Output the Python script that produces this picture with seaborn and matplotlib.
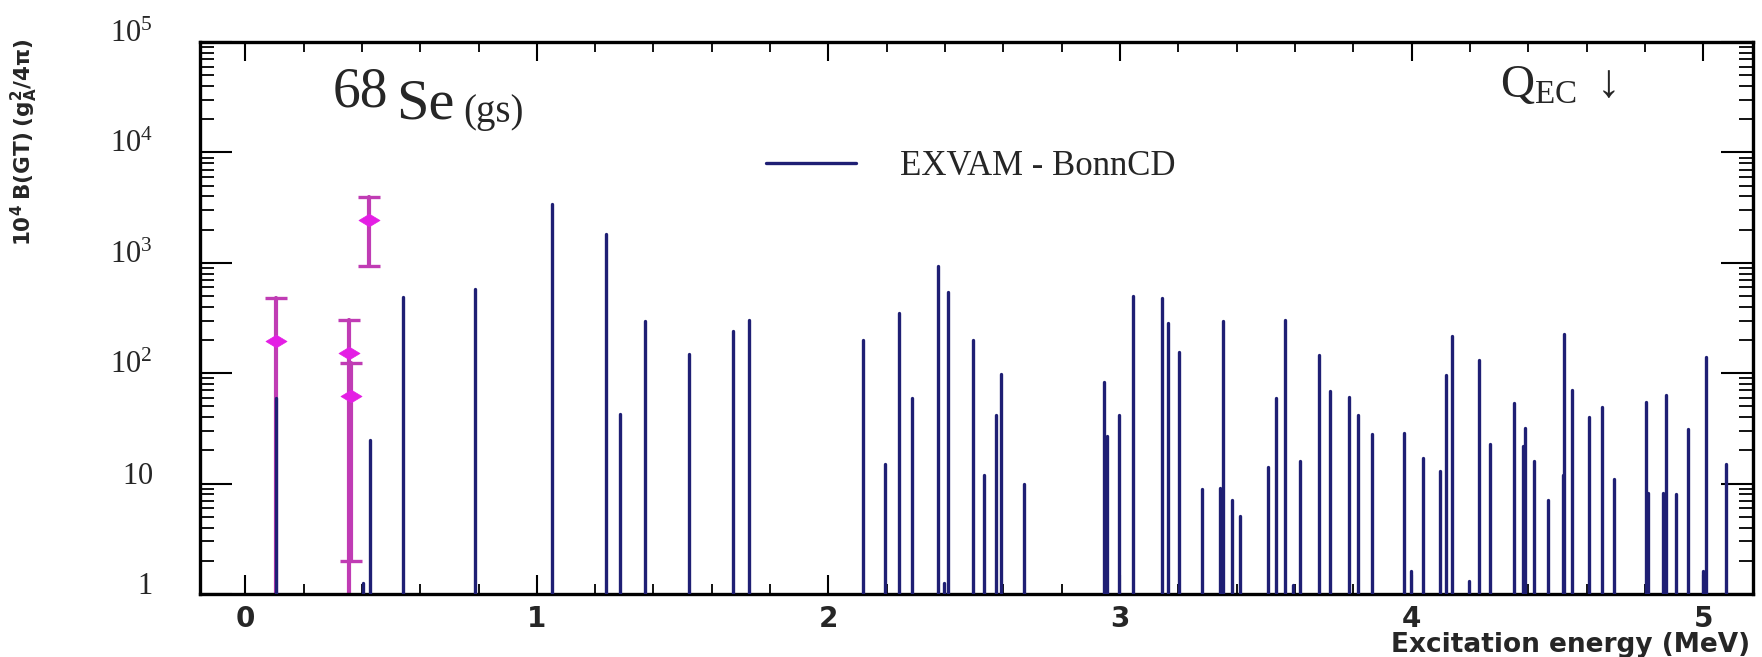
import numpy as np
import pandas as pd
import matplotlib
matplotlib.use("Agg")
import matplotlib.pyplot as plt
import seaborn as sns
from matplotlib.ticker import MultipleLocator, LogLocator, NullFormatter
from matplotlib.lines import Line2D
from matplotlib.markers import MarkerStyle
from matplotlib.path import Path

# ---------------- data ----------------
theory_E = [0.104, 0.404, 0.427, 0.540, 0.789, 1.051, 1.238, 1.286, 1.371, 1.523,
            1.671, 1.728, 2.120, 2.194, 2.242, 2.288, 2.374, 2.397, 2.410, 2.496,
            2.534, 2.574, 2.591, 2.670, 2.945, 2.955, 2.995, 3.044, 3.145, 3.164,
            3.201, 3.282, 3.343, 3.354, 3.383, 3.411, 3.506, 3.536, 3.566, 3.593,
            3.616, 3.683, 3.719, 3.786, 3.814, 3.863, 3.975, 3.998, 4.040, 4.097,
            4.118, 4.137, 4.197, 4.229, 4.267, 4.352, 4.381, 4.389, 4.418, 4.466,
            4.519, 4.523, 4.550, 4.607, 4.653, 4.693, 4.804, 4.810, 4.861, 4.871,
            4.907, 4.947, 4.997, 5.010, 5.079]
theory_B = [60, 1.27, 25, 490, 580, 3400, 1845, 43, 298, 150,
            241, 303, 201, 15, 349, 60, 931, 1.27, 550, 201,
            12, 42, 99, 10, 83, 27, 42, 505, 485, 287,
            155, 9.0, 9.2, 298, 7.1, 5.1, 14, 60, 303, 1.2,
            16, 147, 69, 61, 42, 28, 29, 1.6, 17, 13,
            97, 218, 1.3, 131, 23, 54, 22, 32, 16, 7.1,
            12, 226, 71, 40, 49, 11, 55, 8.2, 8.2, 63,
            8.0, 31, 1.6, 141, 15]

exp_E = [0.104, 0.356, 0.362, 0.424]
exp_B = [194, 153, 62, 2430]
exp_lo = [1.0, 1.0, 1.98, 932]
exp_hi = [485, 303, 123, 3925]

ytick_vals = [1, 10, 100, 1e3, 1e4, 1e5]
ytick_labels = [r"$\mathrm{1}$", r"$\mathrm{10}$", r"$\mathrm{10}^{\mathrm{2}}$",
                r"$\mathrm{10}^{\mathrm{3}}$", r"$\mathrm{10}^{\mathrm{4}}$",
                r"$\mathrm{10}^{\mathrm{5}}$"]
xtick_vals = [0, 1, 2, 3, 4, 5]
xtick_labels = ["0", "1", "2", "3", "4", "5"]

legend_label = "EXVAM - BonnCD"
x_label = "Excitation energy (MeV)"
y_label = r"$\mathbf{10^{4}\ B(GT)\ (g_{A}^{2}/4\pi)}$"

# ---------------- style ----------------
sns.set_style("ticks")
plt.rcParams.update({
    "font.family": ["Liberation Serif", "DejaVu Sans"],
    "mathtext.fontset": "custom",
    "mathtext.rm": "Liberation Serif",
    "mathtext.it": "Liberation Serif:italic",
    "mathtext.bf": "DejaVu Sans:bold",
    "mathtext.sf": "DejaVu Sans",
})

NAVY = "#1f1f74"
ERR = "#c03cb4"
MAG = "#e41ee4"

fig = plt.figure(figsize=(17.62, 6.57), dpi=100)
ax = fig.add_axes([0.1135, 0.0959, 0.8814, 0.840])

n = len(theory_E)
stem_df = pd.DataFrame({
    "E": np.repeat(theory_E, 2),
    "B": np.column_stack([np.ones(n), theory_B]).ravel(),
    "id": np.repeat(np.arange(n), 2),
})

m = len(exp_E)
err_df = pd.DataFrame({
    "E": np.repeat(exp_E, 2),
    "B": np.column_stack([exp_lo, exp_hi]).ravel(),
    "id": np.repeat(np.arange(m), 2),
})
sns.lineplot(data=err_df, x="E", y="B", units="id", estimator=None, sort=False,
             color=ERR, linewidth=3.0, ax=ax, legend=False, zorder=2)

sns.lineplot(data=stem_df, x="E", y="B", units="id", estimator=None, sort=False,
             color=NAVY, linewidth=2.4, ax=ax, legend=False, zorder=3)

cap_x = list(exp_E) + [e for e, lo in zip(exp_E, exp_lo) if lo > 1.0]
cap_y = list(exp_hi) + [lo for lo in exp_lo if lo > 1.0]
sns.scatterplot(x=cap_x, y=cap_y, marker="_", s=260, linewidth=2.4,
                color=ERR, edgecolor=ERR, ax=ax, zorder=4, legend=False)

diamond = MarkerStyle(Path([(-1, 0), (0, 0.6), (1, 0), (0, -0.6), (-1, 0)], closed=True))
sns.scatterplot(x=exp_E, y=exp_B, marker=diamond, s=230, color=MAG,
                edgecolor=MAG, linewidth=0.5, ax=ax, zorder=5, legend=False)

ax.set_yscale("log")
ax.set_ylim(1, 1e5)
ax.set_xlim(-0.155, 5.17)
ax.set_yticks(ytick_vals)
ax.set_yticklabels(ytick_labels)
ax.yaxis.set_minor_locator(LogLocator(base=10, subs=np.arange(2, 10)))
ax.yaxis.set_minor_formatter(NullFormatter())
ax.set_xticks(xtick_vals)
ax.set_xticklabels(xtick_labels)
ax.xaxis.set_minor_locator(MultipleLocator(0.2))
ax.set_xlabel("")
ax.set_ylabel("")

for s in ax.spines.values():
    s.set_linewidth(2.4)
    s.set_color("black")

ax.tick_params(axis="both", which="both", direction="in", top=True, right=True,
               color="black")
ax.tick_params(axis="y", which="major", length=23, width=1.5, pad=34, labelsize=22)
ax.tick_params(axis="y", which="minor", length=10, width=1.3)
ax.tick_params(axis="x", which="major", length=14, width=1.5, pad=8, labelsize=20)
ax.tick_params(axis="x", which="minor", length=7, width=1.3)
for lab in ax.get_yticklabels():
    lab.set_verticalalignment("baseline")
for lab in ax.get_xticklabels():
    lab.set_fontfamily("DejaVu Sans")
    lab.set_fontweight("bold")

ax.legend(handles=[Line2D([0], [0], color=NAVY, lw=2.4)], labels=[legend_label],
          loc="center left", bbox_to_anchor=(0.3645, 0.775), frameon=False,
          borderpad=0, borderaxespad=0, handlelength=2.6, handletextpad=1.25,
          prop={"family": "Liberation Serif", "size": 25})

t1 = ax.text(0.30, 10 ** 4.42, "68", fontsize=40, va="baseline", ha="left",
             family="Liberation Serif")
t2 = ax.annotate("Se", xy=(1, 0), xycoords=t1, xytext=(6, -9),
                 textcoords="offset points", va="bottom", ha="left",
                 fontsize=42, family="Liberation Serif")
t3 = ax.annotate("(gs)", xy=(1, 0), xycoords=t2, xytext=(6, 0),
                 textcoords="offset points", va="bottom", ha="left",
                 fontsize=28, family="Liberation Serif")
ax.text(4.50, 10 ** 4.50, r"$\mathrm{Q}_{\mathrm{EC}}\ \downarrow$", fontsize=34,
        ha="center", va="baseline")

fig.text(0.9932, 0.018, x_label, ha="right", va="center", fontsize=19,
         family="DejaVu Sans", fontweight="bold")
fig.text(0.014, 0.942, y_label, rotation=90, ha="center", va="top", fontsize=15.5)

fig.savefig("out.png", dpi=100)
